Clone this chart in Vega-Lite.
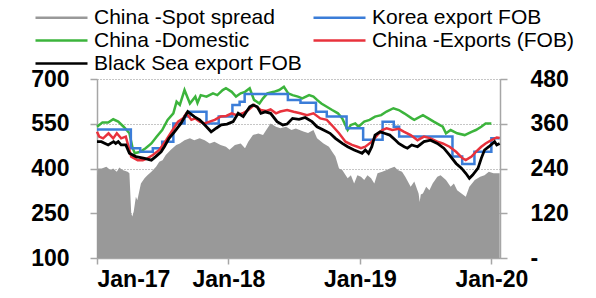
{
  "$schema": "https://vega.github.io/schema/vega-lite/v6.json",
  "width": 403,
  "height": 179,
  "autosize": {"type": "none"},
  "padding": {"left": 97, "top": 79, "right": 96, "bottom": 40},
  "background": "white",
  "config": {
    "view": {"stroke": null},
    "axis": {"labelFont": "Liberation Sans", "labelFontWeight": "bold", "labelFontSize": 23, "labelColor": "#000000", "domainColor": "#a6a6a6", "domainWidth": 1.5, "tickColor": "#a6a6a6", "tickWidth": 1.5, "tickSize": 7, "zindex": 0}
  },
  "datasets": {
    "spread": [
      {"d":"2017-01-01","v":218},{"d":"2017-01-04","v":240},{"d":"2017-01-14","v":240},{"d":"2017-01-27","v":245},{"d":"2017-02-07","v":236},{"d":"2017-02-15","v":240},{"d":"2017-02-25","v":231},{"d":"2017-03-04","v":243},{"d":"2017-03-13","v":236},{"d":"2017-03-27","v":231},{"d":"2017-04-01","v":227},{"d":"2017-04-06","v":120},{"d":"2017-04-09","v":111},{"d":"2017-04-13","v":125},{"d":"2017-04-19","v":164},{"d":"2017-04-23","v":155},{"d":"2017-05-03","v":200},{"d":"2017-05-13","v":214},{"d":"2017-05-21","v":222},{"d":"2017-06-01","v":231},{"d":"2017-06-14","v":245},{"d":"2017-06-23","v":258},{"d":"2017-07-02","v":262},{"d":"2017-07-11","v":276},{"d":"2017-07-25","v":290},{"d":"2017-08-09","v":303},{"d":"2017-08-19","v":307},{"d":"2017-09-01","v":316},{"d":"2017-09-16","v":321},{"d":"2017-09-28","v":316},{"d":"2017-10-13","v":321},{"d":"2017-10-27","v":316},{"d":"2017-11-10","v":307},{"d":"2017-11-23","v":312},{"d":"2017-12-10","v":303},{"d":"2017-12-25","v":298},{"d":"2018-01-04","v":290},{"d":"2018-01-19","v":303},{"d":"2018-02-04","v":307},{"d":"2018-02-16","v":294},{"d":"2018-02-25","v":312},{"d":"2018-03-10","v":330},{"d":"2018-03-25","v":334},{"d":"2018-04-07","v":330},{"d":"2018-04-16","v":343},{"d":"2018-04-28","v":361},{"d":"2018-05-13","v":352},{"d":"2018-05-25","v":348},{"d":"2018-06-10","v":352},{"d":"2018-06-25","v":343},{"d":"2018-07-07","v":347},{"d":"2018-07-28","v":339},{"d":"2018-08-10","v":335},{"d":"2018-08-25","v":343},{"d":"2018-09-04","v":321},{"d":"2018-09-22","v":307},{"d":"2018-10-07","v":298},{"d":"2018-10-16","v":285},{"d":"2018-10-25","v":272},{"d":"2018-11-04","v":240},{"d":"2018-11-13","v":236},{"d":"2018-11-28","v":214},{"d":"2018-12-07","v":222},{"d":"2018-12-16","v":200},{"d":"2018-12-25","v":222},{"d":"2019-01-04","v":218},{"d":"2019-01-13","v":209},{"d":"2019-01-22","v":222},{"d":"2019-02-01","v":214},{"d":"2019-02-10","v":200},{"d":"2019-02-19","v":227},{"d":"2019-03-04","v":231},{"d":"2019-03-16","v":236},{"d":"2019-03-25","v":240},{"d":"2019-04-07","v":245},{"d":"2019-04-16","v":236},{"d":"2019-04-28","v":231},{"d":"2019-05-07","v":218},{"d":"2019-05-22","v":191},{"d":"2019-06-01","v":205},{"d":"2019-06-13","v":173},{"d":"2019-06-16","v":150},{"d":"2019-06-19","v":170},{"d":"2019-06-25","v":173},{"d":"2019-07-04","v":191},{"d":"2019-07-13","v":182},{"d":"2019-07-22","v":200},{"d":"2019-08-04","v":218},{"d":"2019-08-13","v":222},{"d":"2019-08-28","v":209},{"d":"2019-09-10","v":191},{"d":"2019-09-19","v":200},{"d":"2019-09-28","v":182},{"d":"2019-10-10","v":173},{"d":"2019-10-22","v":164},{"d":"2019-11-01","v":191},{"d":"2019-11-16","v":209},{"d":"2019-12-01","v":218},{"d":"2019-12-13","v":222},{"d":"2019-12-25","v":231},{"d":"2020-01-07","v":227},{"d":"2020-01-24","v":227}
    ],
    "domestic": [
      {"d":"2017-01-01","v":540},{"d":"2017-01-16","v":554},{"d":"2017-02-01","v":554},{"d":"2017-02-15","v":565},{"d":"2017-03-01","v":557},{"d":"2017-03-16","v":540},{"d":"2017-04-01","v":518},{"d":"2017-04-10","v":468},{"d":"2017-04-16","v":451},{"d":"2017-05-01","v":456},{"d":"2017-05-16","v":468},{"d":"2017-06-01","v":484},{"d":"2017-06-16","v":507},{"d":"2017-07-01","v":529},{"d":"2017-07-16","v":563},{"d":"2017-08-01","v":585},{"d":"2017-08-10","v":624},{"d":"2017-08-19","v":613},{"d":"2017-09-01","v":663},{"d":"2017-09-16","v":618},{"d":"2017-10-01","v":641},{"d":"2017-10-07","v":620},{"d":"2017-10-16","v":646},{"d":"2017-11-01","v":641},{"d":"2017-11-19","v":652},{"d":"2017-12-01","v":646},{"d":"2017-12-16","v":663},{"d":"2017-12-25","v":669},{"d":"2018-01-10","v":657},{"d":"2018-01-22","v":641},{"d":"2018-02-04","v":652},{"d":"2018-02-16","v":657},{"d":"2018-03-01","v":669},{"d":"2018-03-13","v":630},{"d":"2018-03-28","v":618},{"d":"2018-04-07","v":635},{"d":"2018-04-19","v":652},{"d":"2018-05-07","v":657},{"d":"2018-05-22","v":663},{"d":"2018-06-04","v":674},{"d":"2018-06-16","v":652},{"d":"2018-06-28","v":646},{"d":"2018-07-13","v":641},{"d":"2018-07-25","v":635},{"d":"2018-08-13","v":646},{"d":"2018-08-25","v":641},{"d":"2018-09-04","v":630},{"d":"2018-09-16","v":618},{"d":"2018-10-01","v":607},{"d":"2018-10-16","v":596},{"d":"2018-11-01","v":585},{"d":"2018-11-13","v":568},{"d":"2018-11-28","v":529},{"d":"2018-12-07","v":546},{"d":"2018-12-19","v":551},{"d":"2018-12-28","v":540},{"d":"2019-01-13","v":557},{"d":"2019-01-28","v":563},{"d":"2019-02-12","v":574},{"d":"2019-03-01","v":579},{"d":"2019-03-16","v":591},{"d":"2019-04-04","v":602},{"d":"2019-04-19","v":596},{"d":"2019-05-04","v":585},{"d":"2019-05-25","v":568},{"d":"2019-06-01","v":563},{"d":"2019-06-25","v":579},{"d":"2019-07-10","v":568},{"d":"2019-07-25","v":557},{"d":"2019-08-10","v":546},{"d":"2019-08-19","v":540},{"d":"2019-08-28","v":518},{"d":"2019-09-10","v":529},{"d":"2019-09-28","v":518},{"d":"2019-10-19","v":512},{"d":"2019-11-07","v":523},{"d":"2019-11-19","v":529},{"d":"2019-12-04","v":540},{"d":"2019-12-16","v":551},{"d":"2020-01-01","v":551}
    ],
    "korea": [
      {"d":"2017-01-01","v":531},{"d":"2017-04-05","v":468},{"d":"2017-05-01","v":456},{"d":"2017-06-05","v":468},{"d":"2017-07-01","v":490},{"d":"2017-08-01","v":551},{"d":"2017-09-01","v":574},{"d":"2017-09-15","v":590},{"d":"2017-11-01","v":551},{"d":"2017-12-05","v":574},{"d":"2018-01-12","v":613},{"d":"2018-02-01","v":624},{"d":"2018-02-15","v":650},{"d":"2018-06-15","v":630},{"d":"2018-07-20","v":620},{"d":"2018-09-01","v":590},{"d":"2018-10-01","v":574},{"d":"2018-11-25","v":535},{"d":"2019-01-10","v":496},{"d":"2019-03-05","v":557},{"d":"2019-04-05","v":540},{"d":"2019-04-20","v":507},{"d":"2019-09-15","v":440},{"d":"2019-10-12","v":415},{"d":"2019-11-15","v":456},{"d":"2020-01-01","v":501},{"d":"2020-01-24","v":501}
    ],
    "exports": [
      {"d":"2017-01-01","v":523},{"d":"2017-01-07","v":507},{"d":"2017-01-18","v":501},{"d":"2017-02-02","v":518},{"d":"2017-02-15","v":501},{"d":"2017-02-25","v":518},{"d":"2017-03-09","v":501},{"d":"2017-03-22","v":507},{"d":"2017-04-06","v":440},{"d":"2017-04-24","v":428},{"d":"2017-05-08","v":428},{"d":"2017-05-21","v":434},{"d":"2017-06-05","v":445},{"d":"2017-06-23","v":462},{"d":"2017-07-12","v":495},{"d":"2017-07-30","v":529},{"d":"2017-08-14","v":557},{"d":"2017-08-28","v":568},{"d":"2017-09-06","v":585},{"d":"2017-09-20","v":563},{"d":"2017-10-01","v":568},{"d":"2017-10-13","v":557},{"d":"2017-10-27","v":551},{"d":"2017-11-10","v":557},{"d":"2017-11-24","v":563},{"d":"2017-12-10","v":574},{"d":"2017-12-26","v":576},{"d":"2018-01-10","v":585},{"d":"2018-01-23","v":579},{"d":"2018-02-10","v":585},{"d":"2018-02-25","v":596},{"d":"2018-03-13","v":613},{"d":"2018-04-01","v":596},{"d":"2018-04-16","v":593},{"d":"2018-04-28","v":598},{"d":"2018-05-13","v":585},{"d":"2018-05-25","v":591},{"d":"2018-06-13","v":596},{"d":"2018-07-01","v":590},{"d":"2018-07-19","v":585},{"d":"2018-08-07","v":579},{"d":"2018-08-25","v":585},{"d":"2018-09-13","v":568},{"d":"2018-10-01","v":563},{"d":"2018-10-19","v":540},{"d":"2018-11-04","v":518},{"d":"2018-11-22","v":490},{"d":"2018-12-10","v":479},{"d":"2018-12-25","v":473},{"d":"2019-01-04","v":468},{"d":"2019-01-16","v":473},{"d":"2019-02-03","v":490},{"d":"2019-02-18","v":512},{"d":"2019-03-04","v":529},{"d":"2019-03-16","v":535},{"d":"2019-04-01","v":529},{"d":"2019-04-19","v":533},{"d":"2019-05-04","v":523},{"d":"2019-05-22","v":512},{"d":"2019-06-10","v":495},{"d":"2019-06-28","v":507},{"d":"2019-07-16","v":501},{"d":"2019-08-04","v":490},{"d":"2019-08-19","v":484},{"d":"2019-09-07","v":473},{"d":"2019-09-25","v":456},{"d":"2019-10-13","v":434},{"d":"2019-10-22","v":428},{"d":"2019-11-07","v":440},{"d":"2019-11-19","v":456},{"d":"2019-12-04","v":473},{"d":"2019-12-16","v":484},{"d":"2020-01-01","v":495},{"d":"2020-01-16","v":504},{"d":"2020-01-24","v":502}
    ],
    "blacksea": [
      {"d":"2017-01-01","v":490},{"d":"2017-01-13","v":490},{"d":"2017-02-01","v":479},{"d":"2017-02-16","v":490},{"d":"2017-02-22","v":484},{"d":"2017-03-01","v":490},{"d":"2017-03-09","v":479},{"d":"2017-03-22","v":479},{"d":"2017-04-01","v":451},{"d":"2017-04-19","v":440},{"d":"2017-05-13","v":434},{"d":"2017-06-01","v":428},{"d":"2017-06-13","v":440},{"d":"2017-06-28","v":456},{"d":"2017-07-07","v":473},{"d":"2017-07-20","v":501},{"d":"2017-08-04","v":523},{"d":"2017-08-22","v":551},{"d":"2017-09-10","v":591},{"d":"2017-09-28","v":574},{"d":"2017-10-13","v":563},{"d":"2017-11-01","v":540},{"d":"2017-11-14","v":523},{"d":"2017-11-28","v":535},{"d":"2017-12-12","v":546},{"d":"2017-12-28","v":549},{"d":"2018-01-14","v":557},{"d":"2018-01-28","v":585},{"d":"2018-02-11","v":574},{"d":"2018-03-01","v":607},{"d":"2018-03-10","v":613},{"d":"2018-03-22","v":607},{"d":"2018-04-01","v":585},{"d":"2018-04-13","v":590},{"d":"2018-04-28","v":585},{"d":"2018-05-16","v":557},{"d":"2018-06-01","v":546},{"d":"2018-06-13","v":549},{"d":"2018-06-28","v":568},{"d":"2018-07-16","v":565},{"d":"2018-08-02","v":571},{"d":"2018-08-21","v":557},{"d":"2018-09-04","v":540},{"d":"2018-09-22","v":529},{"d":"2018-10-10","v":518},{"d":"2018-10-25","v":501},{"d":"2018-11-13","v":484},{"d":"2018-11-28","v":473},{"d":"2018-12-16","v":462},{"d":"2018-12-28","v":456},{"d":"2019-01-07","v":451},{"d":"2019-01-16","v":462},{"d":"2019-01-25","v":451},{"d":"2019-02-03","v":473},{"d":"2019-02-12","v":512},{"d":"2019-02-26","v":523},{"d":"2019-03-10","v":518},{"d":"2019-03-25","v":512},{"d":"2019-04-10","v":495},{"d":"2019-04-19","v":484},{"d":"2019-05-04","v":473},{"d":"2019-05-13","v":468},{"d":"2019-05-25","v":479},{"d":"2019-06-10","v":473},{"d":"2019-06-28","v":490},{"d":"2019-07-16","v":495},{"d":"2019-08-04","v":484},{"d":"2019-08-22","v":468},{"d":"2019-09-07","v":445},{"d":"2019-09-25","v":417},{"d":"2019-10-10","v":401},{"d":"2019-10-22","v":384},{"d":"2019-11-01","v":367},{"d":"2019-11-10","v":378},{"d":"2019-11-25","v":401},{"d":"2019-12-04","v":434},{"d":"2019-12-13","v":462},{"d":"2019-12-25","v":473},{"d":"2020-01-10","v":490},{"d":"2020-01-16","v":479},{"d":"2020-01-24","v":484}
    ]
  },
  "resolve": {"scale": {"y": "independent"}},
  "layer": [
    {
      "data": {"name": "spread"},
      "mark": {"type": "area", "opacity": 1},
      "encoding": {
        "x": {"field": "d", "type": "temporal", "title": null,
          "scale": {"domain": [{"year": 2017, "month": 1, "date": 1}, {"year": 2020, "month": 1, "date": 25}]},
          "axis": {"values": [{"year": 2017, "month": 1, "date": 1}, {"year": 2018, "month": 1, "date": 1}, {"year": 2019, "month": 1, "date": 1}, {"year": 2020, "month": 1, "date": 1}], "format": "%b-%y", "grid": false, "tickSize": 6, "labelPadding": 4}},
        "y": {"field": "v", "type": "quantitative", "title": null,
          "scale": {"domain": [0, 480], "nice": false, "zero": false},
          "axis": {"orient": "right", "values": [0, 120, 240, 360, 480], "grid": false, "labelPadding": 23, "labelExpr": "datum.value === 0 ? '-' : datum.label"}},
        "color": {"datum": "China -Spot spread", "type": "nominal",
          "scale": {"domain": ["China -Spot spread", "China -Domestic", "Black Sea export FOB", "Korea export FOB", "China -Exports (FOB)"], "range": ["#999999", "#3cb43c", "#000000", "#3b7dd8", "#e8323c"]},
          "legend": {"orient": "none", "legendX": -67, "legendY": -72, "columns": 2, "title": null, "padding": 0,
            "symbolType": "M-1,0H9.4", "symbolSize": 100, "symbolStrokeWidth": 2.5,
            "labelFont": "Liberation Sans", "labelFontSize": 21, "labelColor": "#000000", "labelOffset": 43, "labelLimit": 400,
            "columnPadding": 6, "rowPadding": 1,
            "encode": {"symbols": {"update": {"strokeWidth": {"signal": "datum.value === 'China -Spot spread' ? 10 : 2.5"}, "stroke": {"scale": "color", "field": "value"}, "fill": {"value": "transparent"}}}}}}
      }
    },
    {
      "layer": [
        {
          "data": {"name": "domestic"},
          "mark": {"type": "line", "strokeWidth": 2.5},
          "encoding": {
            "x": {"field": "d", "type": "temporal", "title": null},
            "y": {"field": "v", "type": "quantitative", "title": null,
              "scale": {"domain": [100, 700], "nice": false, "zero": false},
              "axis": {"orient": "left", "values": [100, 250, 400, 550, 700], "grid": true, "gridColor": "#8c8c8c", "gridDash": [1, 2], "gridWidth": 1, "labelPadding": 21}},
            "color": {"datum": "China -Domestic", "type": "nominal"}
          }
        },
        {
          "data": {"name": "korea"},
          "mark": {"type": "line", "strokeWidth": 2.5, "interpolate": "step-after"},
          "encoding": {
            "x": {"field": "d", "type": "temporal", "title": null},
            "y": {"field": "v", "type": "quantitative", "title": null, "scale": {"domain": [100, 700], "nice": false, "zero": false}},
            "color": {"datum": "Korea export FOB", "type": "nominal"}
          }
        },
        {
          "data": {"name": "exports"},
          "mark": {"type": "line", "strokeWidth": 2.5},
          "encoding": {
            "x": {"field": "d", "type": "temporal", "title": null},
            "y": {"field": "v", "type": "quantitative", "title": null, "scale": {"domain": [100, 700], "nice": false, "zero": false}},
            "color": {"datum": "China -Exports (FOB)", "type": "nominal"}
          }
        },
        {
          "data": {"name": "blacksea"},
          "mark": {"type": "line", "strokeWidth": 2.8},
          "encoding": {
            "x": {"field": "d", "type": "temporal", "title": null},
            "y": {"field": "v", "type": "quantitative", "title": null, "scale": {"domain": [100, 700], "nice": false, "zero": false}},
            "color": {"datum": "Black Sea export FOB", "type": "nominal"}
          }
        }
      ]
    }
  ]
}
